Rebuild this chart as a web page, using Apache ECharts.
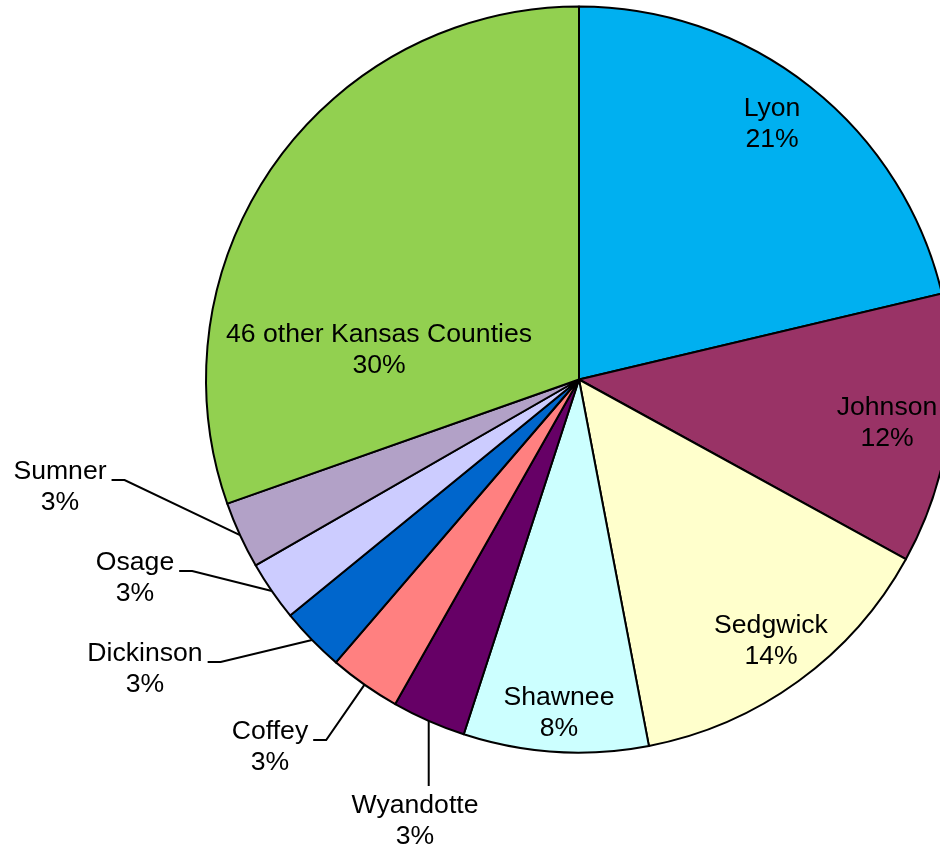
<!DOCTYPE html>
<html><head><meta charset="utf-8">
<script src="https://cdn.jsdelivr.net/npm/echarts@6/dist/echarts.min.js"></script>
<style>html,body{margin:0;padding:0;background:#fff}#c{width:940px;height:852px}</style>
</head><body><div id="c"></div>
<script>
const categories = ['Lyon','Johnson','Sedgwick','Shawnee','Wyandotte','Coffey','Dickinson','Osage','Sumner','46 other Kansas Counties'];
const shares = [21.3, 11.7, 14.0, 8.0, 3.2, 3.1, 2.8, 2.6, 2.9, 30.4];
const colors = ['#00B0F0','#993366','#FFFFCC','#CCFFFF','#660066','#FF8080','#0066CC','#CCCCFF','#B2A1C7','#92D050'];
// leader style per slice: 'none' = label inside, 'elbow' = angled leader, 'drop' = vertical leader
const leaderStyle = ['none','none','none','none','drop','elbow','elbow','elbow','elbow','none'];
// label block centres (pixels)
const labelAnchors = [[772,124],[887,423],[771,641],[559,713],[415,821],[270,747],[145,669],[135,578],[60,487],[379,350]];
const CX = 579, CY = 379.5, R = 373;

const total = shares.reduce((a,b)=>a+b,0);
function edgePoint(i){
  let cum = 0; for (let k=0;k<i;k++) cum += shares[k];
  const th = (cum + shares[i]/2)/total * Math.PI * 2;
  return [CX + R*Math.sin(th), CY - R*Math.cos(th)];
}

const chart = echarts.init(document.getElementById('c'), null, {renderer:'canvas'});
const data = categories.map((name,i)=>({
  name, value: shares[i],
  itemStyle:{color: colors[i]},
  label:{position: leaderStyle[i]==='none' ? 'inside' : 'outside'},
  labelLine:{show: leaderStyle[i]!=='none'}
}));
chart.setOption({
  backgroundColor:'#ffffff',
  animation:false,
  series:[{
    type:'pie',
    center:[CX, CY],
    radius:[0, R],
    startAngle:90,
    clockwise:true,
    avoidLabelOverlap:false,
    itemStyle:{borderColor:'#000', borderWidth:2},
    label:{
      show:true,
      color:'#000',
      fontFamily:'Liberation Sans, Arial, sans-serif',
      fontSize:26.6,
      lineHeight:31,
      align:'center',
      formatter: p => p.name + '\n' + Math.round(p.value/total*100) + '%'
    },
    labelLine:{lineStyle:{color:'#000', width:2}, smooth:false},
    labelLayout: function(p){
      const i = p.dataIndex;
      const a = labelAnchors[i];
      const w = p.labelRect.width, h = p.labelRect.height;
      const out = {x:a[0], y:a[1], align:'center', verticalAlign:'middle'};
      const e = edgePoint(i);
      if (leaderStyle[i]==='elbow'){
        const right = a[0] + w/2;
        const ly = a[1] - 7;
        out.labelLinePoints = [e, [right+18, ly], [right+5, ly]];
      } else if (leaderStyle[i]==='drop'){
        out.labelLinePoints = [e, [e[0], (e[1]+a[1]-h/2-4)/2], [e[0], a[1]-h/2-4]];
      }
      return out;
    },
    data
  }]
});
</script></body></html>
